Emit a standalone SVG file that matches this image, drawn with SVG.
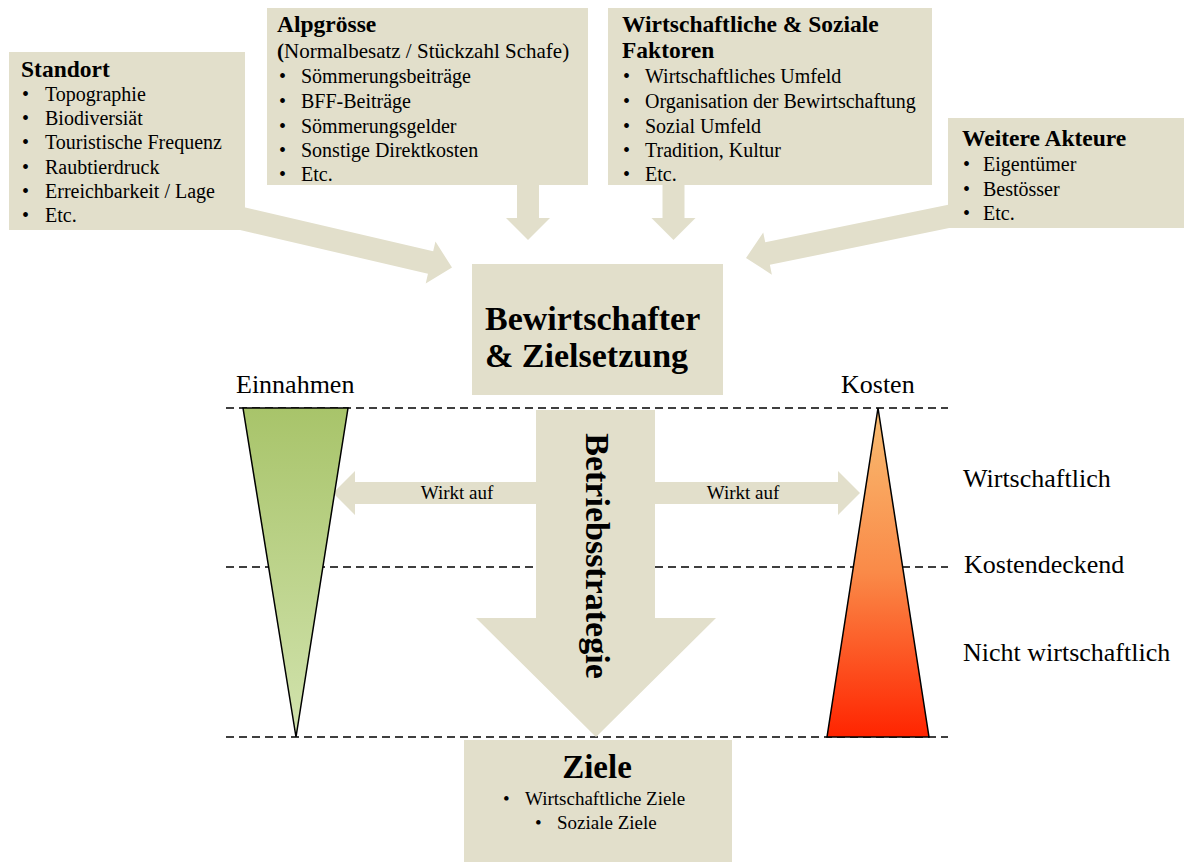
<svg xmlns="http://www.w3.org/2000/svg" width="1184" height="862" viewBox="0 0 1184 862">
<style>
text{font-family:"Liberation Serif","Times New Roman",serif;fill:#000}
.box{fill:#e2dfcb}
.arr{fill:#e2dfcb}
.t{font-size:23.5px;font-weight:bold}
.i{font-size:20px}
.big{font-size:34px;font-weight:bold}
.lab{font-size:26px}
.wa{font-size:19px}
.dash{stroke:#000;stroke-width:1.5;stroke-dasharray:8 5;fill:none}
.tri{stroke:#000;stroke-width:1.5}
</style>
<defs>
<linearGradient id="gGreen" x1="0" y1="0" x2="0" y2="1">
<stop offset="0" stop-color="#a8c46a"/>
<stop offset="1" stop-color="#d2e3ae"/>
</linearGradient>
<linearGradient id="gRed" x1="0" y1="0" x2="0" y2="1">
<stop offset="0" stop-color="#f8bd72"/>
<stop offset="0.5" stop-color="#fa8a48"/>
<stop offset="1" stop-color="#ff2400"/>
</linearGradient>
</defs>

<g id="connectors">
<polygon class="arr" transform="translate(452,267.5) rotate(13.1)" points="-228,-11.5 -22,-11.5 -22,-21.5 0,0 -22,21.5 -22,11.5 -228,11.5"/>
<polygon class="arr" points="517,180 539,180 539,218 550,218 528,240 506,218 517,218"/>
<polygon class="arr" points="662.5,180 684.5,180 684.5,218 695.5,218 673.5,240 651.5,218 662.5,218"/>
<polygon class="arr" transform="translate(746,258) rotate(168.4)" points="-220,-11.5 -22,-11.5 -22,-21.5 0,0 -22,21.5 -22,11.5 -220,11.5"/>
<line class="dash" x1="226" y1="408" x2="948" y2="408"/>
<line class="dash" x1="226" y1="567" x2="948" y2="567"/>
<line class="dash" x1="226" y1="737" x2="948" y2="737"/>
<polygon class="arr" points="536,410 655,410 655,618 716,618 596,737 476,618 536,618"/>
<polygon class="arr" points="536,482 355,482 355,471 333,493 355,515 355,504 536,504"/>
<polygon class="arr" points="655,482 838,482 838,471 860,493 838,515 838,504 655,504"/>
<text class="wa" x="457" y="499" text-anchor="middle">Wirkt auf</text>
<text class="wa" x="743" y="499" text-anchor="middle">Wirkt auf</text>
<text class="big" transform="translate(586,556) rotate(90)" text-anchor="middle">Betriebsstrategie</text>
</g>

<g id="standort">
<rect class="box" x="9" y="52" width="236" height="178"/>
<text class="t" x="21" y="77">Standort</text>
<g class="i">
<text x="22" y="101">•</text><text x="45" y="101">Topographie</text>
<text x="22" y="125">•</text><text x="45" y="125">Biodiversiät</text>
<text x="22" y="149">•</text><text x="45" y="149">Touristische Frequenz</text>
<text x="22" y="174">•</text><text x="45" y="174">Raubtierdruck</text>
<text x="22" y="198">•</text><text x="45" y="198">Erreichbarkeit / Lage</text>
<text x="22" y="222">•</text><text x="45" y="222">Etc.</text>
</g>
</g>

<g id="alpgroesse">
<rect class="box" x="267" y="8" width="321" height="177"/>
<text class="t" x="277" y="32">Alpgrösse</text>
<text x="277" y="58" style="font-size:21px"><tspan font-weight="bold">(</tspan>Normalbesatz / Stückzahl Schafe)</text>
<g class="i">
<text x="279" y="83">•</text><text x="301" y="83">Sömmerungsbeiträge</text>
<text x="279" y="108">•</text><text x="301" y="108">BFF-Beiträge</text>
<text x="279" y="133">•</text><text x="301" y="133">Sömmerungsgelder</text>
<text x="279" y="157">•</text><text x="301" y="157">Sonstige Direktkosten</text>
<text x="279" y="181">•</text><text x="301" y="181">Etc.</text>
</g>
</g>

<g id="wirtschaftliche">
<rect class="box" x="608" y="8" width="324" height="177"/>
<text class="t" x="622" y="32">Wirtschaftliche &amp; Soziale</text>
<text class="t" x="622" y="58">Faktoren</text>
<g class="i">
<text x="623" y="83">•</text><text x="645" y="83">Wirtschaftliches Umfeld</text>
<text x="623" y="108">•</text><text x="645" y="108">Organisation der Bewirtschaftung</text>
<text x="623" y="133">•</text><text x="645" y="133">Sozial Umfeld</text>
<text x="623" y="157">•</text><text x="645" y="157">Tradition, Kultur</text>
<text x="623" y="181">•</text><text x="645" y="181">Etc.</text>
</g>
</g>

<g id="weitere">
<rect class="box" x="948" y="118" width="236" height="110"/>
<text class="t" x="962" y="146">Weitere Akteure</text>
<g class="i">
<text x="963" y="171">•</text><text x="983" y="171">Eigentümer</text>
<text x="963" y="196">•</text><text x="983" y="196">Bestösser</text>
<text x="963" y="220">•</text><text x="983" y="220">Etc.</text>
</g>
</g>

<g id="bewirtschafter">
<rect class="box" x="472" y="264" width="251" height="131"/>
<text class="big" x="485" y="330">Bewirtschafter</text>
<text class="big" x="485" y="367">&amp; Zielsetzung</text>
</g>

<g id="einnahmen">
<polygon class="tri" fill="url(#gGreen)" points="243,408 348,408 296,737"/>
<text class="lab" x="236" y="393">Einnahmen</text>
</g>

<g id="kosten">
<polygon class="tri" fill="url(#gRed)" points="878,408 929,737 827,737"/>
<text class="lab" x="841" y="393">Kosten</text>
<text class="lab" x="963" y="487">Wirtschaftlich</text>
<text class="lab" x="964" y="573">Kostendeckend</text>
<text class="lab" x="963" y="661">Nicht wirtschaftlich</text>
</g>

<g id="ziele">
<rect class="box" x="464" y="740" width="268" height="122"/>
<text x="597" y="778" text-anchor="middle" style="font-size:33px;font-weight:bold">Ziele</text>
<text x="503" y="805" style="font-size:19px">•</text><text x="525" y="805" style="font-size:19px">Wirtschaftliche Ziele</text>
<text x="535" y="829" style="font-size:19px">•</text><text x="557" y="829" style="font-size:19px">Soziale Ziele</text>
</g>
</svg>
